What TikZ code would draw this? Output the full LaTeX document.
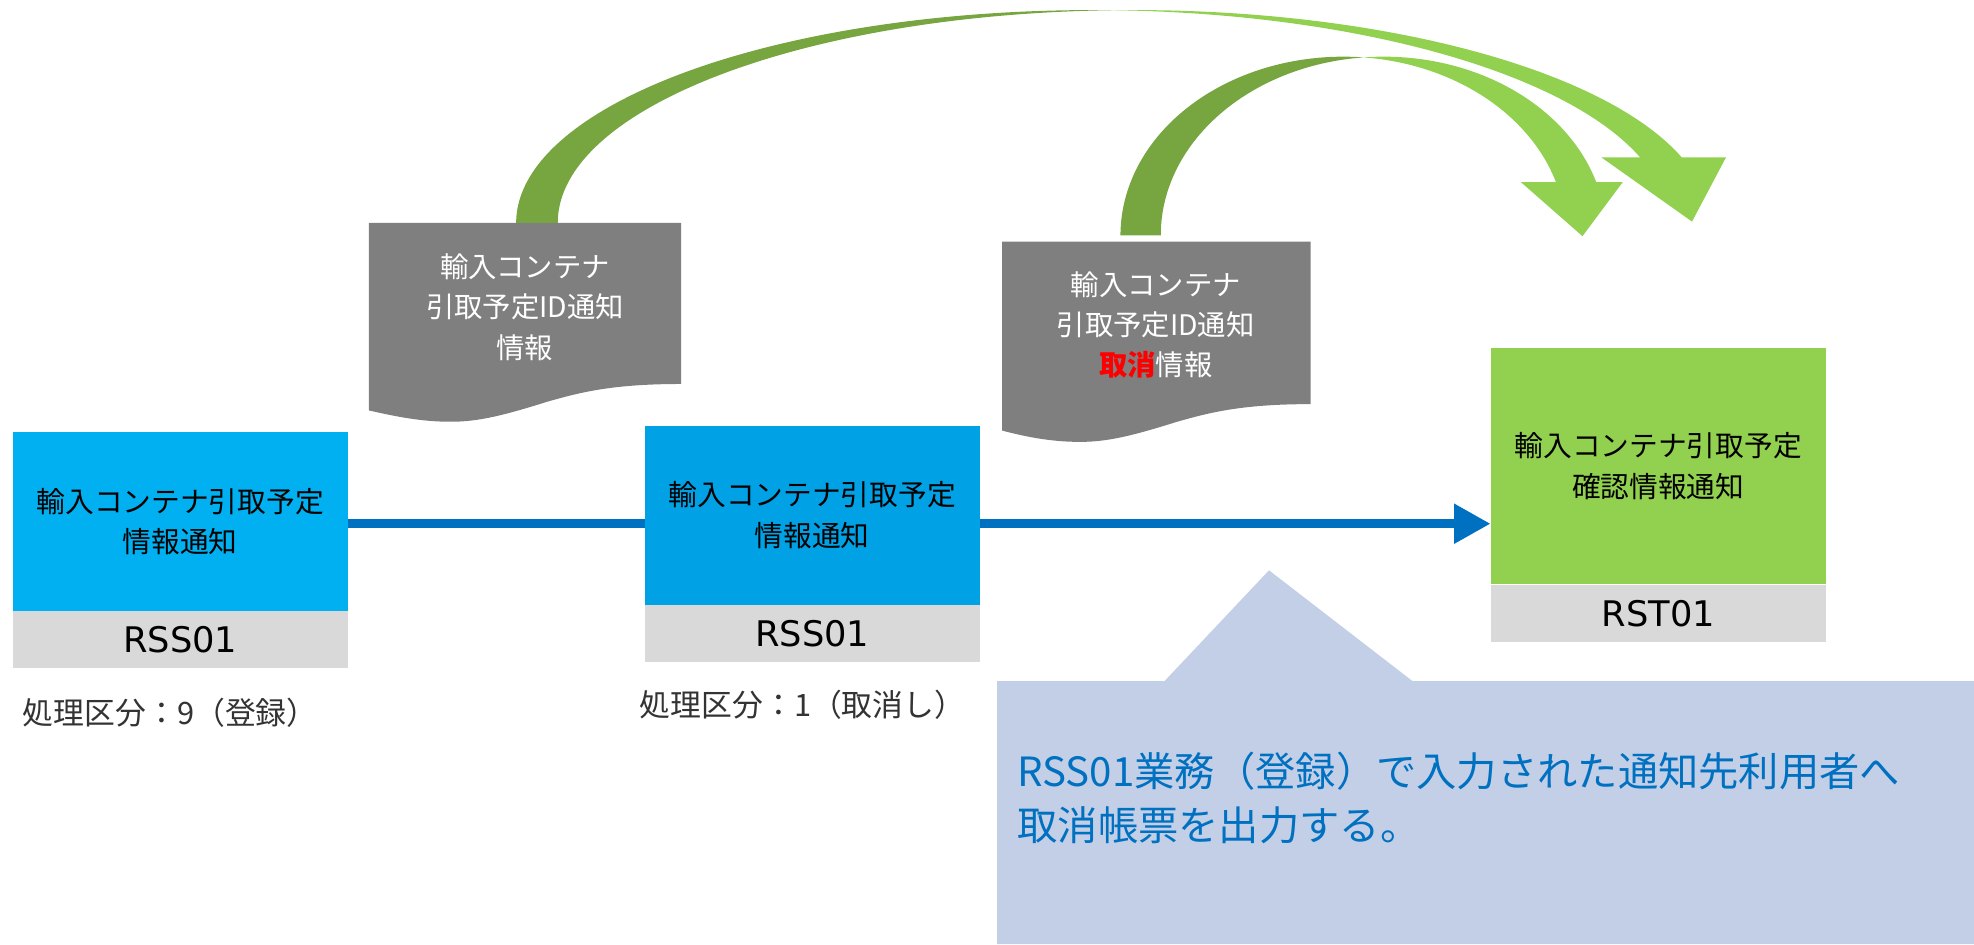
\documentclass[tikz,border=0pt]{standalone}
\usepackage{fontspec}
\setmainfont{Noto Sans CJK JP}
\newfontfamily\codefont{DejaVu Sans}
\usetikzlibrary{arrows.meta,positioning}

\definecolor{skyblue}{HTML}{00B0F0}
\definecolor{deepsky}{HTML}{00A2E5}
\definecolor{leafgreen}{HTML}{92D050}
\definecolor{mossgreen}{HTML}{77A641}
\definecolor{labelgrey}{HTML}{D9D9D9}
\definecolor{docgrey}{HTML}{7F7F7F}
\definecolor{flowblue}{HTML}{0070C0}
\definecolor{notefill}{HTML}{C3CFE7}

\tikzset{
  screen/.style={anchor=north west, minimum width=266pt, minimum height=142pt, inner sep=0pt,
                 align=center, font=\fontsize{22.8}{32}\selectfont},
  idlabel/.style={fill=labelgrey, minimum width=266pt, minimum height=45pt, inner sep=0pt,
                  font=\codefont\fontsize{28}{30}\selectfont},
  doctext/.style={text=white, align=center, font=\fontsize{22.5}{32}\selectfont},
  kubun/.style={anchor=west, inner sep=0pt, text=black!80, font=\fontsize{24.5}{28}\selectfont},
  flowline/.style={draw=flowblue, line width=7pt},
}

\begin{document}
\begin{tikzpicture}[x=1pt,y=-1pt]
\useasboundingbox (0,0) rectangle (1568,750);

% curved arrows (back part dark, front part light)
\fill[mossgreen] (410,177) arc[start angle=180,end angle=272.07,x radius=457.5,y radius=169]
  arc[start angle=267.93,end angle=180,x radius=457.5,y radius=169] -- cycle;
\fill[leafgreen] (884.02,8.11) arc[start angle=267.93,end angle=342.08,x radius=457.5,y radius=169]
  -- (1371,125) -- (1344,176) -- (1272,125) -- (1302.8,125)
  arc[start angle=342.08,end angle=272.07,x radius=457.5,y radius=169] -- cycle;
\fill[mossgreen] (890,187) arc[start angle=180,end angle=275.19,x radius=177,y radius=142]
  arc[start angle=264.81,end angle=180,x radius=177,y radius=142] -- cycle;
\fill[leafgreen] (1083,45.58) arc[start angle=264.81,end angle=342.63,x radius=177,y radius=142]
  -- (1289,144.6) -- (1257,187.6) -- (1208,144.6) -- (1235.9,144.6)
  arc[start angle=342.63,end angle=275.19,x radius=177,y radius=142] -- cycle;

% documents
\fill[docgrey] (293,177) -- (541,177) -- (541,305) .. controls (485,305) and (460,312) .. (435,319)
  .. controls (400,330) and (380,335) .. (358,335) .. controls (335,335) and (315,331) .. (293,326) -- cycle;
\fill[docgrey] (796,192) -- (1041,192) -- (1041,321) .. controls (985,321) and (960,328) .. (935,335)
  .. controls (900,346) and (880,351) .. (858,351) .. controls (835,351) and (815,347) .. (796,342) -- cycle;
\node[doctext] (doc1) at (417,244) {輸入コンテナ\\引取予定ID通知\\情報};
\node[doctext] (doc2) at (918,258) {輸入コンテナ\\引取予定ID通知\\{\color{red}\bfseries 取消}情報};

% screens
\node[screen, fill=skyblue] (rss1) at (10,343) {輸入コンテナ引取予定\\情報通知};
\node[idlabel, below=0pt of rss1] (rss1id) {RSS01};
\node[screen, fill=deepsky] (rss2) at (512,338) {輸入コンテナ引取予定\\情報通知};
\node[idlabel, below=0pt of rss2] (rss2id) {RSS01};
\node[screen, fill=leafgreen, minimum height=188pt] (rst) at (1184,276) {輸入コンテナ引取予定\\確認情報通知};
\node[idlabel, below=0pt of rst] (rstid) {RST01};

\node[kubun] (kubun1) at (18,566) {処理区分：9（登録）};
\node[kubun] (kubun2) at (508,560) {処理区分：1（取消し）};

% flow
\coordinate (flow) at (0,416);
\draw[flowline] (rss1.east |- flow) -- (rss2.west |- flow);
\draw[flowline,-{Triangle[length=29pt,width=30pt]}] (rss2.east |- flow) -- (rst.west |- flow);

% note
\fill[notefill] (792,541) -- (925,541) -- (1008,453) -- (1122,541) -- (1568,541) -- (1568,750) -- (792,750) -- cycle;
\node[anchor=west, align=left, inner sep=0pt, text=flowblue, font=\fontsize{32}{43}\selectfont] (note) at (808,633.5)
  {RSS01業務（登録）で入力された通知先利用者へ\\取消帳票を出力する。};
\end{tikzpicture}
\end{document}
